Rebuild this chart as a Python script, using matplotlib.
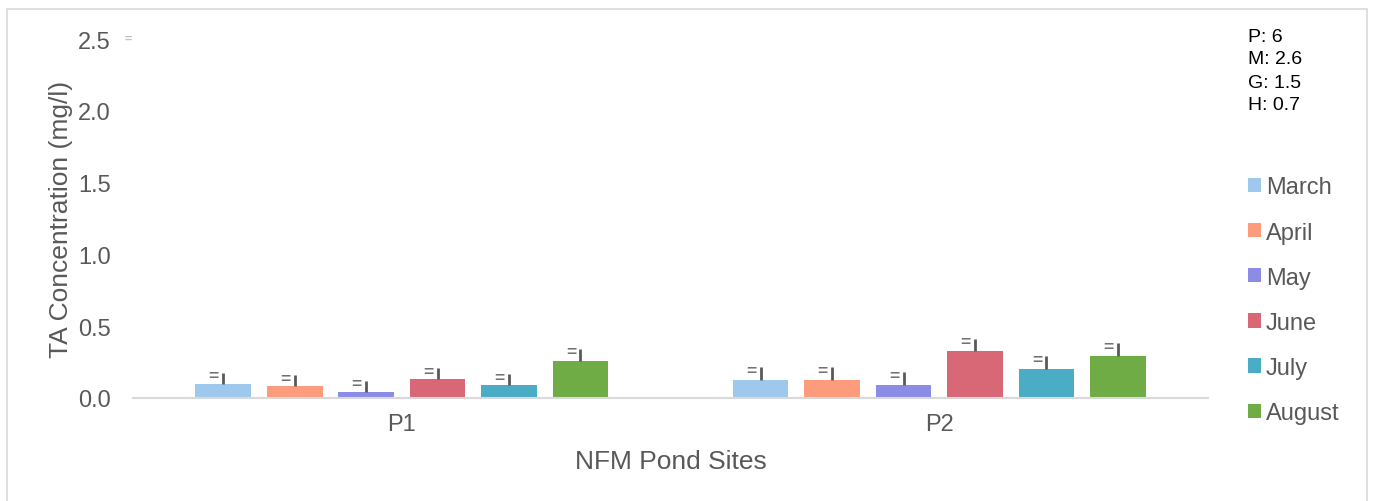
import matplotlib.pyplot as plt
import numpy as np
from matplotlib.patches import Rectangle

plt.rcParams['font.family'] = ['Liberation Sans', 'DejaVu Sans']

sites = ["P1", "P2"]
months = ["March", "April", "May", "June", "July", "August"]
colors = ["#9fc9ec", "#fc9c7c", "#8c8ce6", "#d96876", "#4aacc5", "#6fac46"]

# mean values per month, one entry per site
march = [0.10, 0.125]
april = [0.083, 0.125]
may = [0.042, 0.09]
june = [0.13, 0.327]
july = [0.09, 0.20]
august = [0.26, 0.29]
values = [march, april, may, june, july, august]

# upper error
err_march = [0.077, 0.09]
err_april = [0.077, 0.09]
err_may = [0.077, 0.09]
err_june = [0.077, 0.085]
err_july = [0.077, 0.09]
err_august = [0.083, 0.09]
errors = [err_march, err_april, err_may, err_june, err_july, err_august]

notes = ["P: 6", "M: 2.6", "G: 1.5", "H: 0.7"]

grey = "#595959"

fig = plt.figure(figsize=(13.76, 5.02), dpi=100)
ax = fig.add_axes([0.0967, 0.2052, 0.7812, 0.7151])

x = np.arange(len(sites))
step = 0.133
width = 0.104
for i, (m, vals, errs, c) in enumerate(zip(months, values, errors, colors)):
    pos = x + (i - 2.5) * step
    ax.bar(pos, vals, width=width, color=c, label=m, zorder=2)
    ax.errorbar(pos, vals, yerr=[np.zeros(len(errs)), errs], fmt="none",
                ecolor=grey, elinewidth=2, capsize=0, zorder=3)
    # small "=" marks sitting left of each error bar
    for p, v, e in zip(pos, vals, errs):
        ax.text(p - 0.008, v + e - 0.021, "=", color=grey, fontsize=12.5,
                ha="right", va="center", fontweight="bold", alpha=0.85)

ax.set_xlim(-0.5, 1.5)
ax.set_ylim(0, 2.5)
yt = np.arange(0, 2.51, 0.5)
ax.set_yticks(yt)
ax.set_yticklabels([f"{t:.1f}" for t in yt])
ax.set_xticks(x)
ax.set_xticklabels(sites)
ax.tick_params(axis="both", length=0, labelsize=17, labelcolor=grey)
ax.tick_params(axis="y", pad=16)
ax.tick_params(axis="x", pad=10.5)
for s in ["top", "right", "left"]:
    ax.spines[s].set_visible(False)
ax.spines["bottom"].set_color("#d9d9d9")
ax.spines["bottom"].set_linewidth(1.5)

ax.set_ylabel("TA Concentration (mg/l)", fontsize=19, color=grey)
ax.yaxis.set_label_coords(-0.0558, 0.5)
ax.set_xlabel("NFM Pond Sites", fontsize=19, color=grey)
ax.xaxis.set_label_coords(0.5, -0.142)

ax.text(-0.515, 2.5, "=", color="#bfbfbf", fontsize=9, ha="left", va="center",
        fontweight="bold")

leg = fig.legend(loc="upper left", bbox_to_anchor=(0.8915, 0.689), frameon=False,
                 fontsize=17, handlelength=0.55, handleheight=0.55,
                 handletextpad=0.21, labelspacing=0.98)
for t in leg.get_texts():
    t.set_color(grey)

for k, (n, yp) in enumerate(zip(notes, [37, 59.5, 83, 106])):
    fig.text(1248 / 1376, 1 - yp / 502, n, fontsize=14, color="black",
             ha="left", va="center")

fig.patches.append(Rectangle((7 / 1376, -0.05), 1360 / 1376, 1.05 - 10 / 502,
                             transform=fig.transFigure, fill=False,
                             edgecolor="#d9d9d9", linewidth=1.2))

fig.savefig("out.png", dpi=100)
